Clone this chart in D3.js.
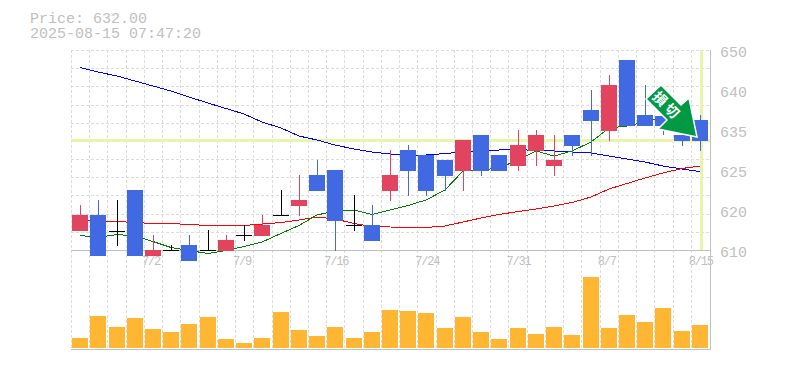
<!DOCTYPE html>
<html>
<head>
<meta charset="utf-8">
<script src="https://cdn.jsdelivr.net/npm/d3@7"></script>
<style>
  html, body { margin: 0; padding: 0; background: #fff; }
  svg { display: block; }
  text { font-family: "Liberation Mono", monospace; fill: #c0c0c0; }
</style>
</head>
<body>
<svg id="chart"></svg>
<script>
// dates of the candles
const dates = ["6/26","6/27","6/30","7/1","7/2","7/3","7/4","7/7","7/8","7/9","7/10","7/11","7/14","7/15","7/16",
  "7/17","7/18","7/22","7/23","7/24","7/25","7/28","7/29","7/30","7/31","8/1","8/4","8/5","8/6","8/7",
  "8/8","8/12","8/13","8/14","8/15"];
const dateLabels = ["7/2","7/9","7/16","7/24","7/31","8/7","8/15"];

const opens = [613.8,617,613.9,622,608.8,610,611,610,609.8,613,612.8,617,618.8,625,626,
  615,615,621.8,630,629,628,625.8,633,629,626.8,629.8,626.8,633,638,633.8,648,637,636.8,633,636];
const closes = [617,608.8,613.9,608.8,610,610,607.8,610,612,613,615,617,620,621.8,615.8,
  615,611.8,625,625.8,621.8,624.8,632,625.8,625.8,631,633,628,630.8,635.8,643,634.8,634.8,634.8,631.8,631.8];
const highs = [619,620,620,622,613,611,613,614,613,615,617,622,625,628,626,
  621,619,630,631,629,628,632,633,629,634,634,633,633,642,645,648,643,636.8,633,637];
const lows = [613.8,608.8,610.8,608.8,608.8,610,607.8,610,609.8,611.8,612.8,617,616.8,621.8,609.8,
  613.8,611.8,619.8,620.8,620.8,621.8,621.8,624.8,625.8,625.8,626.8,624.8,628.8,628.8,631.8,634.8,634.8,633,630.8,629.8];

const maShort = [612.9,612.5,613.1,612.8,611.7,610.5,609.9,609.3,609.9,610.7,611.6,613.3,614.9,617,617.8,
  618,617.1,618,618.9,620,622,625.8,626,626.4,628,629.8,628.8,629.8,631.6,634.4,634.8,635.6,636.6,636.4,635.6];
const maMid = [616,615.7,615.7,615.5,615.3,615.3,615.1,614.9,614.9,614.9,615.2,615.5,616,616.6,616.2,
  615.3,614.7,614.6,614.5,614.5,614.8,615.6,616.4,617.1,617.7,618.2,618.8,619.5,620.6,622.2,623.3,624.4,625.4,626.3,626.8];
const maLong = [646.5,645.6,644.8,643.8,642.8,641.8,640.6,639.4,638.3,637.2,635.6,634.4,632.8,632,631,
  630.2,629.6,629.2,629,629,629.3,629.6,629.8,630,630.1,629.9,629.8,629.6,629.4,628.8,628.2,627.6,626.8,626.2,625.7];

const volumes = [10,32,21,30,19,16,24,31,9,5,10,36,18,12,21,10,16,38,37,35,20,31,16,9,20,14,21,13,71,20,33,26,40,17,23];

const currentPrice = 632;
const stampTime = "2025-08-15 07:47:20";
const priceTicks = [650,642,634,626,618,610];
const priceTickLabels = ["650","640","635","625","620","610"];

const width = 785, height = 370;
const margin = { left: 71, right: 710, top: 50, mid: 250, bottom: 349 };
const gridRows = 11;
const candleWidth = 16;

const svg = d3.select("#chart").attr("width", width).attr("height", height);

const x = d3.scaleBand().domain(dates).range([margin.left, margin.right - 1]);
const y = d3.scaleLinear().domain([610, 650]).range([margin.mid, margin.top]);
const yVol = d3.scaleLinear().domain([0, 80]).range([margin.bottom - 1, margin.bottom - 81]);
const cx = (d) => Math.round(x(d) + x.bandwidth() / 2);

// grid
const grid = svg.append("g").attr("stroke", "#dcdcdc").attr("stroke-dasharray", "3,2");
grid.selectAll(".v").data(dates).enter().append("line")
  .attr("class", "v")
  .attr("x1", (d) => Math.round(x(d)) + 0.5).attr("x2", (d) => Math.round(x(d)) + 0.5)
  .attr("y1", margin.top).attr("y2", margin.bottom);
grid.selectAll(".h").data(d3.range(gridRows)).enter().append("line")
  .attr("class", "h")
  .attr("x1", margin.left).attr("x2", margin.right)
  .attr("y1", (d) => Math.round(margin.top + (d * (margin.mid - margin.top)) / gridRows) + 0.5)
  .attr("y2", (d) => Math.round(margin.top + (d * (margin.mid - margin.top)) / gridRows) + 0.5);

// current price highlight
const highlight = svg.append("g").attr("stroke", "#e6f5a9").attr("stroke-width", 3);
highlight.append("line").attr("x1", margin.left).attr("x2", margin.right)
  .attr("y1", y(currentPrice) + 0.5).attr("y2", y(currentPrice) + 0.5);
highlight.append("line").attr("x1", cx(dates[34]) + 1.5).attr("x2", cx(dates[34]) + 1.5)
  .attr("y1", margin.top).attr("y2", margin.mid);

// axis frame
const frame = svg.append("g").attr("stroke", "#c0c0c0");
frame.append("line").attr("x1", margin.left).attr("x2", margin.right)
  .attr("y1", margin.mid + 0.5).attr("y2", margin.mid + 0.5);
frame.append("line").attr("x1", margin.left).attr("x2", margin.right + 1)
  .attr("y1", margin.bottom + 0.5).attr("y2", margin.bottom + 0.5);
frame.append("line").attr("x1", margin.right + 0.5).attr("x2", margin.right + 0.5)
  .attr("y1", margin.top).attr("y2", margin.bottom);

// moving averages
const line = d3.line().x((d, i) => cx(dates[i])).y((d) => y(d));
[[maLong, "#0000ff"], [maMid, "#ff0000"], [maShort, "#008000"]].forEach(([values, color]) => {
  svg.append("path").attr("d", line(values)).attr("fill", "none")
    .attr("stroke", color).attr("stroke-width", 1)
    .attr("shape-rendering", "crispEdges");
});

// candles
const candleColor = (i) =>
  closes[i] > opens[i] ? "#e2435f" : closes[i] < opens[i] ? "#4169e1" : "#000";

const candles = svg.selectAll(".candle").data(dates).enter().append("g").attr("class", "candle");
candles.append("line")
  .attr("x1", (d) => cx(d) + 0.5).attr("x2", (d) => cx(d) + 0.5)
  .attr("y1", (d, i) => y(highs[i])).attr("y2", (d, i) => y(lows[i]))
  .attr("stroke", (d, i) => candleColor(i));
candles.append("rect")
  .attr("x", (d) => cx(d) - candleWidth / 2)
  .attr("width", candleWidth)
  .attr("y", (d, i) => Math.round(y(Math.max(opens[i], closes[i]))))
  .attr("height", (d, i) => Math.max(1, Math.round(Math.abs(y(opens[i]) - y(closes[i])))))
  .attr("fill", (d, i) => candleColor(i));

// volume
svg.selectAll(".vol").data(volumes).enter().append("rect")
  .attr("class", "vol")
  .attr("x", (d, i) => cx(dates[i]) - candleWidth / 2)
  .attr("width", candleWidth)
  .attr("y", (d) => yVol(d))
  .attr("height", (d) => yVol(0) - yVol(d))
  .attr("fill", "#ffb733");

// axes, only the labels are kept
const yAxis = svg.append("g").attr("transform", `translate(${margin.right + 10},0)`)
  .call(d3.axisRight(y).tickValues(priceTicks).tickSize(0).tickPadding(0)
    .tickFormat((d, i) => priceTickLabels[i]));
yAxis.select(".domain").remove();
yAxis.selectAll("text").attr("dy", "0.46em").attr("fill", null)
  .style("font-size", "15px").style("font-family", "'Liberation Mono', monospace");

const xAxis = svg.append("g").attr("transform", `translate(0,${margin.mid})`)
  .call(d3.axisBottom(x).tickValues(dateLabels).tickSize(0).tickPadding(0));
xAxis.select(".domain").remove();
xAxis.selectAll(".tick").attr("transform", (d) => `translate(${x(d) - 2},0)`);
xAxis.selectAll("text").attr("y", 6).attr("dy", "0.71em").attr("fill", null)
  .attr("text-anchor", "start").style("font-size", "12px").style("letter-spacing", "-1.2px")
  .style("font-family", "'Liberation Mono', monospace");

// header
svg.append("text").attr("x", 30).attr("y", 23).style("font-size", "15px").text(`Price: ${currentPrice.toFixed(2)}`);
svg.append("text").attr("x", 30).attr("y", 38).style("font-size", "15px").text(stampTime);

// sell signal arrow on the last candle
const arrow = svg.append("g")
  .attr("transform", `translate(${cx(dates[34])},${y(currentPrice)})`);
arrow.append("polygon")
  .attr("points", "-54,-41 -39,-55 -19,-35 -11,-42 -3,-3 -42,-11 -33,-20")
  .attr("fill", "#009944").attr("stroke", "#fff").attr("stroke-width", 1.5);
arrow.append("text").attr("transform", "translate(-33,-34) rotate(45)")
  .attr("text-anchor", "middle").attr("dy", "0.35em")
  .style("font-family", "'Noto Sans CJK JP', sans-serif").style("font-size", "14px")
  .style("letter-spacing", "3px")
  .style("font-weight", "bold").style("fill", "#fff").text("損切");
</script>
</body>
</html>
